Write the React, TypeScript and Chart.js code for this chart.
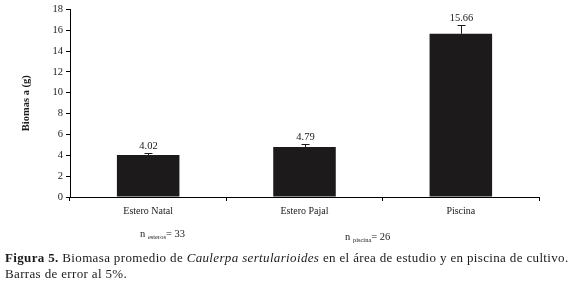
import React, { useEffect, useRef } from "react";
import { Chart, registerables } from "chart.js";

Chart.register(...registerables);

const categories = ["Estero Natal", "Estero Pajal", "Piscina"];
const biomass = [4.02, 4.79, 15.66];
const errors = [0.2, 0.25, 0.8];
const valueLabels = ["4.02", "4.79", "15.66"];
const yTicks = [0, 2, 4, 6, 8, 10, 12, 14, 16, 18];

const SERIF = "'Liberation Serif', 'DejaVu Serif', serif";

const errorBarPlugin = {
  id: "errorBars",
  afterDatasetsDraw(chart: any) {
    const { ctx, scales } = chart;
    const meta = chart.getDatasetMeta(0);
    const y = scales.y;
    ctx.save();
    ctx.strokeStyle = "#1a1a1a";
    ctx.lineWidth = 1;
    ctx.fillStyle = "#1a1a1a";
    ctx.font = `10.5px ${SERIF}`;
    ctx.textAlign = "center";
    ctx.textBaseline = "bottom";
    meta.data.forEach((bar: any, i: number) => {
      const x = Math.round(bar.x) + 0.5;
      const yTop = y.getPixelForValue(biomass[i]);
      const yErr = Math.round(y.getPixelForValue(biomass[i] + errors[i])) + 0.5;
      ctx.beginPath();
      ctx.moveTo(x, yTop);
      ctx.lineTo(x, yErr);
      ctx.moveTo(x - 4, yErr);
      ctx.lineTo(x + 4, yErr);
      ctx.stroke();
      ctx.fillText(valueLabels[i], x, yErr - 2);
    });
    ctx.restore();
  },
};

export default function App() {
  const ref = useRef<HTMLCanvasElement>(null);
  useEffect(() => {
    if (!ref.current) return;
    const chart = new Chart(ref.current, {
      type: "bar",
      data: {
        labels: categories,
        datasets: [
          {
            data: biomass,
            backgroundColor: "#1c1a1b",
            borderWidth: 0,
            categoryPercentage: 1,
            barPercentage: 0.4,
          },
        ],
      },
      options: {
        animation: false,
        responsive: false,
        maintainAspectRatio: false,
        layout: { padding: { left: 0, right: 33, top: 8, bottom: 0 } },
        plugins: { legend: { display: false }, tooltip: { enabled: false } },
        scales: {
          x: {
            grid: {
              display: true,
              offset: true,
              drawOnChartArea: false,
              drawTicks: true,
              tickLength: 4,
              tickColor: "#000",
            },
            border: { display: true, color: "#000", width: 1 },
            ticks: {
              color: "#1a1a1a",
              font: { family: SERIF, size: 10 },
              padding: 4,
              maxRotation: 0,
            },
            afterFit(scale: any) {
              scale.height = 53;
            },
          },
          y: {
            min: 0,
            max: 18,
            afterBuildTicks(scale: any) {
              scale.ticks = yTicks.map((v) => ({ value: v }));
            },
            grid: {
              display: true,
              drawOnChartArea: false,
              drawTicks: true,
              tickLength: 4,
              tickColor: "#000",
            },
            border: { display: true, color: "#000", width: 1 },
            ticks: {
              color: "#1a1a1a",
              font: { family: SERIF, size: 10.5 },
              padding: 3,
            },
            title: {
              display: true,
              text: "Biomas a (g)",
              color: "#1a1a1a",
              font: { family: SERIF, size: 10.5, weight: "bold" },
              padding: { top: 20, bottom: 0 },
            },
            afterFit(scale: any) {
              scale.width = 70;
            },
          },
        },
      },
      plugins: [errorBarPlugin],
    });
    return () => chart.destroy();
  }, []);

  const textColor = "#1a1a1a";
  const subStyle: React.CSSProperties = {
    fontSize: 6.5,
    verticalAlign: "baseline",
    position: "relative",
    top: 2,
  };
  return (
    <div
      style={{
        position: "absolute",
        left: 0,
        top: 0,
        width: 572,
        height: 284,
        background: "#fff",
        fontFamily: SERIF,
        color: textColor,
      }}
    >
      <canvas ref={ref} width={572} height={250} style={{ display: "block" }} />
      <div style={{ position: "absolute", left: 140, top: 228, fontSize: 10.5, whiteSpace: "nowrap" }}>
        n <sub style={subStyle}>esteros</sub>= 33
      </div>
      <div style={{ position: "absolute", left: 345, top: 231, fontSize: 10.5, whiteSpace: "nowrap" }}>
        n <sub style={subStyle}>piscina</sub>= 26
      </div>
      <div
        style={{
          position: "absolute",
          left: 5,
          top: 250,
          width: 570,
          fontSize: 13,
          letterSpacing: "0.35px",
          lineHeight: "16px",
          whiteSpace: "nowrap",
        }}
      >
        <div>
          <b>Figura 5.</b> Biomasa promedio de <i>Caulerpa sertularioides</i> en el área de estudio y en piscina de cultivo.
        </div>
        <div>Barras de error al 5%.</div>
      </div>
    </div>
  );
}
